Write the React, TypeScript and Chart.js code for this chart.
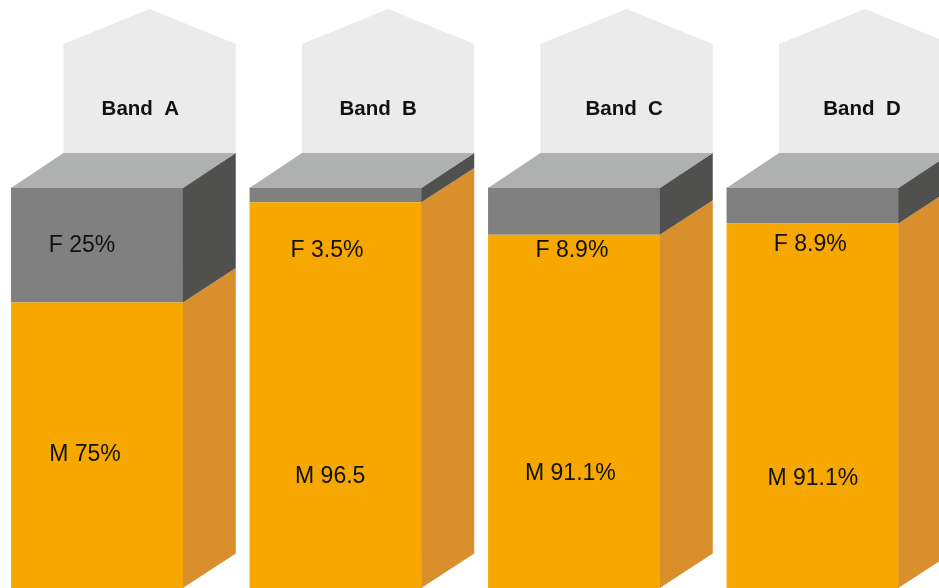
import React, { useEffect, useRef } from 'react';
import { Chart, registerables } from 'chart.js';

Chart.register(...registerables);

// ---- data ----
const categories = ['Band  A', 'Band  B', 'Band  C', 'Band  D'];
// segment heights as drawn (share of the bar, %)
const maleShare = [71.3, 96.3, 88.2, 91.0];
const femaleShare = [28.7, 3.7, 11.8, 9.0];
// printed labels
const maleLabels = ['M 75%', 'M 96.5', 'M 91.1%', 'M 91.1%'];
const femaleLabels = ['F 25%', 'F 3.5%', 'F 8.9%', 'F 8.9%'];

// ---- layout / style ----
const W = 939;
const H = 588;
const DEPTH_X = 52.4;
const DEPTH_Y = 34.4;
const ROOF_SHOULDER_Y = 44;
const ROOF_PEAK_Y = 9;
const BAND_BASELINE_Y = 115;
const femaleLabelLevel = [83.8, 82.7, 82.7, 84.1];
const maleLabelLevel = [31.7, 26.3, 27.0, 25.7];
const femaleLabelShift = [-15.2, -8.7, -2.3, -2.4];
const maleLabelShift = [-12.2, -5.5, -3.8, 0.1];
const bandLabelShift = [43.1, 42.5, 50, 49.3];

const ORANGE_FRONT = '#F7A800';
const ORANGE_SIDE = '#D98F2B';
const GREY_FRONT = '#808080';
const GREY_SIDE = '#50504F';
const TOP_FACE = '#AFB1B0';
const HOUSE = '#EBEBEB';
const TEXT = '#111111';
const FONT = '"Liberation Sans", Arial, sans-serif';

const sideColors = [ORANGE_SIDE, GREY_SIDE];

const boxPlugin = {
  id: 'box3d',
  beforeDatasetsDraw(chart: any) {
    const ctx = chart.ctx;
    const topMeta = chart.getDatasetMeta(1);
    ctx.save();
    topMeta.data.forEach((bar: any, i: number) => {
      const p = bar.getProps(['x', 'y', 'width'], true);
      const left = p.x - p.width / 2 + DEPTH_X;
      const right = p.x + p.width / 2 + DEPTH_X;
      const bottom = p.y - DEPTH_Y + 0.5;
      const cx = (left + right) / 2;
      ctx.fillStyle = HOUSE;
      ctx.beginPath();
      ctx.moveTo(left, bottom);
      ctx.lineTo(left, ROOF_SHOULDER_Y);
      ctx.lineTo(cx, ROOF_PEAK_Y);
      ctx.lineTo(right, ROOF_SHOULDER_Y);
      ctx.lineTo(right, bottom);
      ctx.closePath();
      ctx.fill();
      ctx.fillStyle = TEXT;
      ctx.font = `bold 20.5px ${FONT}`;
      ctx.textAlign = 'center';
      ctx.textBaseline = 'alphabetic';
      ctx.fillText(categories[i], p.x + bandLabelShift[i], BAND_BASELINE_Y);
    });
    ctx.restore();
  },
  afterDatasetsDraw(chart: any) {
    const ctx = chart.ctx;
    const yScale = chart.scales.y;
    ctx.save();
    // side faces
    [0, 1].forEach((d) => {
      const meta = chart.getDatasetMeta(d);
      meta.data.forEach((bar: any) => {
        const p = bar.getProps(['x', 'y', 'base', 'width'], true);
        const r = p.x + p.width / 2;
        ctx.fillStyle = sideColors[d];
        ctx.beginPath();
        ctx.moveTo(r - 0.5, p.y);
        ctx.lineTo(r + DEPTH_X, p.y - DEPTH_Y);
        ctx.lineTo(r + DEPTH_X, p.base - DEPTH_Y);
        ctx.lineTo(r - 0.5, p.base);
        ctx.closePath();
        ctx.fill();
      });
    });
    // top faces
    const topMeta = chart.getDatasetMeta(1);
    topMeta.data.forEach((bar: any) => {
      const p = bar.getProps(['x', 'y', 'width'], true);
      const l = p.x - p.width / 2;
      const r = p.x + p.width / 2;
      ctx.fillStyle = TOP_FACE;
      ctx.beginPath();
      ctx.moveTo(l, p.y + 0.5);
      ctx.lineTo(l + DEPTH_X, p.y - DEPTH_Y);
      ctx.lineTo(r + DEPTH_X, p.y - DEPTH_Y);
      ctx.lineTo(r, p.y + 0.5);
      ctx.closePath();
      ctx.fill();
    });
    // labels
    ctx.fillStyle = TEXT;
    ctx.font = `23px ${FONT}`;
    ctx.textAlign = 'center';
    ctx.textBaseline = 'alphabetic';
    topMeta.data.forEach((bar: any, i: number) => {
      const p = bar.getProps(['x'], true);
      ctx.fillText(femaleLabels[i], p.x + femaleLabelShift[i], yScale.getPixelForValue(femaleLabelLevel[i]));
      ctx.fillText(maleLabels[i], p.x + maleLabelShift[i], yScale.getPixelForValue(maleLabelLevel[i]));
    });
    ctx.restore();
  },
};

export default function App() {
  const ref = useRef<HTMLCanvasElement | null>(null);

  useEffect(() => {
    if (!ref.current) return;
    const chart = new Chart(ref.current, {
      type: 'bar',
      data: {
        labels: categories,
        datasets: [
          {
            label: 'M',
            data: maleShare,
            backgroundColor: ORANGE_FRONT,
            borderWidth: 0,
            clip: false,
          },
          {
            label: 'F',
            data: femaleShare,
            backgroundColor: GREY_FRONT,
            borderWidth: 0,
            clip: false,
          },
        ],
      },
      options: {
        animation: false,
        responsive: false,
        maintainAspectRatio: false,
        devicePixelRatio: 1,
        events: [],
        layout: {
          padding: { left: 97.2, right: W - 812.7, top: 187.5, bottom: 0 },
        },
        datasets: {
          bar: { barPercentage: 0.7225, categoryPercentage: 1 },
        },
        scales: {
          x: { display: false, offset: false, stacked: true },
          y: { display: false, min: 0, max: 100, stacked: true },
        },
        plugins: {
          legend: { display: false },
          tooltip: { enabled: false },
          title: { display: false },
        },
      },
      plugins: [boxPlugin],
    } as any);
    return () => chart.destroy();
  }, []);

  return (
    <div style={{ position: 'fixed', left: 0, top: 0, width: W, height: H, background: '#ffffff' }}>
      <canvas ref={ref} width={W} height={H} style={{ display: 'block', width: W, height: H }} />
    </div>
  );
}
